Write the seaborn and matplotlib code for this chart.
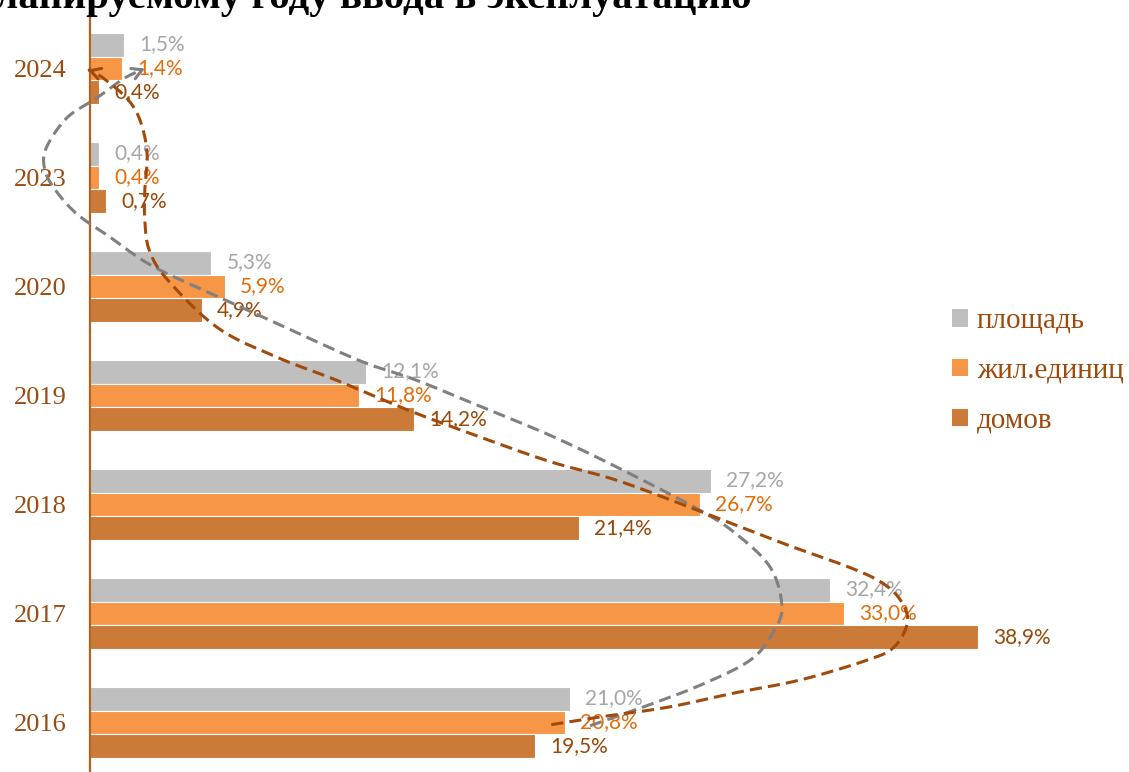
import numpy as np
import pandas as pd
import matplotlib
matplotlib.use("Agg")
import matplotlib.pyplot as plt
import seaborn as sns
from matplotlib.patches import Patch

years = ["2024", "2023", "2020", "2019", "2018", "2017", "2016"]
series = ["площадь", "жил.единиц", "домов"]
area = [1.5, 0.4, 5.3, 12.1, 27.2, 32.4, 21.0]
units = [1.4, 0.4, 5.9, 11.8, 26.7, 33.0, 20.8]
houses = [0.4, 0.7, 4.9, 14.2, 21.4, 38.9, 19.5]

bar_colors = ["#bfbfbf", "#f79646", "#cc7a38"]
label_colors = ["#a6a6a6", "#e46c0a", "#984807"]
brown_text = "#9c4a0e"

# hand-drawn trend arrows (value %, category position)
gray_x = [21.9, 24.2, 26.7, 28.9, 29.9, 30.3, 29.8, 28.3, 26.6, 23.1, 20.2, 17.2, 14.3,
          11.8, 8.2, 6.0, 2.8, 0.9, -0.6, -1.6, -2.0, -1.9, -1.0, 0.3, 1.5, 2.4]
gray_y = [6.03, 5.86, 5.66, 5.43, 5.18, 4.94, 4.58, 4.27, 4.04, 3.66, 3.37, 3.11, 2.86,
          2.68, 2.34, 2.13, 1.82, 1.55, 1.33, 1.09, 0.91, 0.72, 0.45, 0.27, 0.09, 0.0]
brown_x = [20.2, 22.3, 25.3, 28.2, 31.1, 34.0, 35.2, 35.8, 35.5, 34.7, 33.3, 30.4, 26.7,
           23.1, 20.2, 17.2, 14.0, 10.8, 8.2, 5.6, 3.4, 2.6, 2.4, 2.4, 2.5, 2.2, 1.6, 0.4, -0.1]
brown_y = [6.02, 5.95, 5.86, 5.73, 5.61, 5.43, 5.31, 5.08, 4.88, 4.72, 4.58, 4.36, 4.06,
           3.78, 3.61, 3.39, 3.14, 2.86, 2.65, 2.38, 1.94, 1.67, 1.39, 1.12, 0.78, 0.48, 0.27, 0.06, 0.01]

df = pd.DataFrame({
    "year": years * 3,
    "series": [s for s in series for _ in years],
    "value": area + units + houses,
})


def smooth(xs, ys, n=12):
    # catmull-rom through the waypoints
    p = np.column_stack([xs, ys])
    p = np.vstack([p[0], p, p[-1]])
    out = []
    for i in range(1, len(p) - 2):
        p0, p1, p2, p3 = p[i - 1], p[i], p[i + 1], p[i + 2]
        for t in np.linspace(0, 1, n, endpoint=False):
            out.append(0.5 * ((2 * p1) + (-p0 + p2) * t + (2 * p0 - 5 * p1 + 4 * p2 - p3) * t ** 2
                              + (-p0 + 3 * p1 - 3 * p2 + p3) * t ** 3))
    out.append(p[-2])
    out = np.array(out)
    return out[:, 0], out[:, 1]


sns.set_style("white")
fig = plt.figure(figsize=(11.29, 7.72), dpi=100)
ax = fig.add_axes([90 / 1129, -5 / 772, 1 - 90 / 1129, 1 - 14 / 772 + 5 / 772])

sns.barplot(data=df, x="value", y="year", hue="series", order=years, hue_order=series,
            palette=bar_colors, saturation=1, width=0.66, orient="h", ax=ax, legend=False,
            edgecolor="white", linewidth=0.8)

ax.set_xlim(0, 45.5)
ax.set_ylim(6.5, -0.5)
ax.set_xlabel("")
ax.set_ylabel("")
ax.set_xticks([])
for s in ["top", "right", "bottom"]:
    ax.spines[s].set_visible(False)
ax.spines["left"].set_color("#b5621e")
ax.spines["left"].set_linewidth(1.6)
ax.tick_params(axis="y", length=0, pad=17)
for t in ax.get_yticklabels():
    t.set_fontfamily("Liberation Serif")
    t.set_fontsize(19)
    t.set_color(brown_text)

for cont, col in zip(ax.containers, label_colors):
    labels = [f"{b.get_width():.1f}%".replace(".", ",") for b in cont]
    ax.bar_label(cont, labels=labels, padding=11, color=col, fontsize=15, fontfamily="Lato")

for xs, ys, col in [(gray_x, gray_y, "#808080"), (brown_x, brown_y, "#a04a0c")]:
    sx, sy = smooth(xs, ys)
    ax.plot(sx[:-3], sy[:-3], color=col, lw=2.2, ls=(0, (4, 2)), clip_on=False, zorder=5)
    ax.annotate("", xy=(xs[-1], ys[-1]), xytext=(sx[-4], sy[-4]),
                arrowprops=dict(arrowstyle="->,head_length=0.7,head_width=0.4", color=col, lw=2.2,
                                shrinkA=0, shrinkB=0),
                annotation_clip=False, zorder=6)

handles = [Patch(facecolor=c, edgecolor="none") for c in bar_colors]
leg = fig.legend(handles, series, loc="center left", bbox_to_anchor=(952 / 1129, 1 - 371 / 772),
                 frameon=False, handlelength=0.55, handleheight=0.55, handletextpad=0.3,
                 labelspacing=0.82, borderpad=0, borderaxespad=0,
                 prop={"family": "Liberation Serif", "size": 21})
for t in leg.get_texts():
    t.set_color(brown_text)

fig.text(752 / 1129, 1 - 8 / 772, "по планируемому году ввода в эксплуатацию", ha="right", va="baseline",
         fontfamily="Liberation Serif", fontweight="bold", fontsize=29.5, color="black")

fig.savefig("out.png", dpi=100)
